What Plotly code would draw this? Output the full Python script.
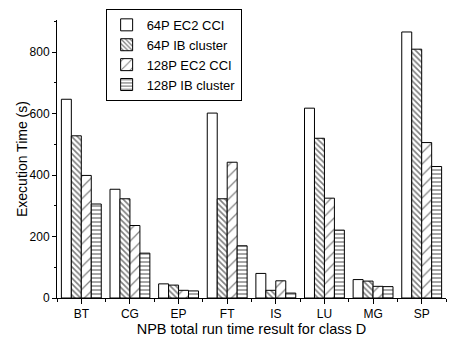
import plotly.graph_objects as go

categories = ["BT", "CG", "EP", "FT", "IS", "LU", "MG", "SP"]
series_names = ["64P EC2 CCI", "64P IB cluster", "128P EC2 CCI", "128P IB cluster"]
ec2_64 = [647, 354, 46, 602, 80, 618, 60, 866]
ib_64 = [528, 323, 42, 323, 25, 520, 55, 810]
ec2_128 = [399, 236, 25, 442, 56, 325, 38, 506]
ib_128 = [306, 146, 23, 170, 16, 221, 37, 428]
y_ticks = [0, 200, 400, 600, 800]
boundaries = [i - 0.5 for i in range(len(categories) + 1)]

series_values = [ec2_64, ib_64, ec2_128, ib_128]
patterns = [
    dict(shape=""),
    dict(shape="\\", size=4, solidity=0.4, fgcolor="black", bgcolor="white", fillmode="overlay"),
    dict(shape="/", size=8, solidity=0.15, fgcolor="black", bgcolor="white", fillmode="overlay"),
    dict(shape="-", size=4, solidity=0.35, fgcolor="black", bgcolor="white", fillmode="overlay"),
]

FONT = "Arial, Liberation Sans, sans-serif"

fig = go.Figure()
for name, vals, pat in zip(series_names, series_values, patterns):
    fig.add_trace(go.Bar(
        x=categories, y=vals, name=name,
        marker=dict(color="white", line=dict(color="black", width=1), pattern=pat),
    ))

# invisible helper trace for boundary (minor) ticks on overlay axis
fig.add_trace(go.Scatter(x=[boundaries[0], boundaries[-1]], y=[0, 0], xaxis="x2",
                         mode="markers", marker=dict(opacity=0), showlegend=False,
                         hoverinfo="skip"))

fig.update_layout(
    width=449, height=341,
    margin=dict(l=57, r=3, t=20, b=43),
    paper_bgcolor="white", plot_bgcolor="white",
    font=dict(family=FONT, size=12, color="black"),
    barmode="group", bargap=0.18, bargroupgap=0,
    showlegend=True,
    legend=dict(
        x=0.125, y=1.04, xanchor="left", yanchor="top",
        bgcolor="white", bordercolor="black", borderwidth=1,
        font=dict(family=FONT, size=13, color="black"),
        tracegroupgap=0, itemwidth=30,
    ),
    xaxis=dict(
        type="category", range=[-0.5, 7.5],
        showline=True, linecolor="black", linewidth=1,
        ticks="outside", ticklen=5, tickcolor="black", tickwidth=1,
        tickfont=dict(size=12), showgrid=False, zeroline=False,
        title=dict(text="NPB total run time result for class D", font=dict(size=14.5), standoff=0),
    ),
    xaxis2=dict(
        overlaying="x", range=[-0.5, 7.5], showgrid=False, zeroline=False,
        tickmode="array", tickvals=boundaries, showticklabels=False,
        ticks="outside", ticklen=3, tickcolor="black", tickwidth=1, showline=False,
        side="bottom",
    ),
    yaxis=dict(
        range=[0, 905], showline=True, linecolor="black", linewidth=1,
        tickmode="array", tickvals=y_ticks,
        ticks="outside", ticklen=4, tickcolor="black", tickwidth=1,
        minor=dict(ticks="outside", ticklen=2, dtick=100, tick0=0, tickcolor="black"),
        tickfont=dict(size=12), showgrid=False, zeroline=False,
    ),
    annotations=[dict(
        text="Execution Time (s)", textangle=-90, showarrow=False,
        xref="paper", yref="paper", x=-35 / 389, y=0.5,
        xanchor="center", yanchor="middle",
        font=dict(family=FONT, size=14, color="black"),
    )],
)

fig.write_html("out.html")
